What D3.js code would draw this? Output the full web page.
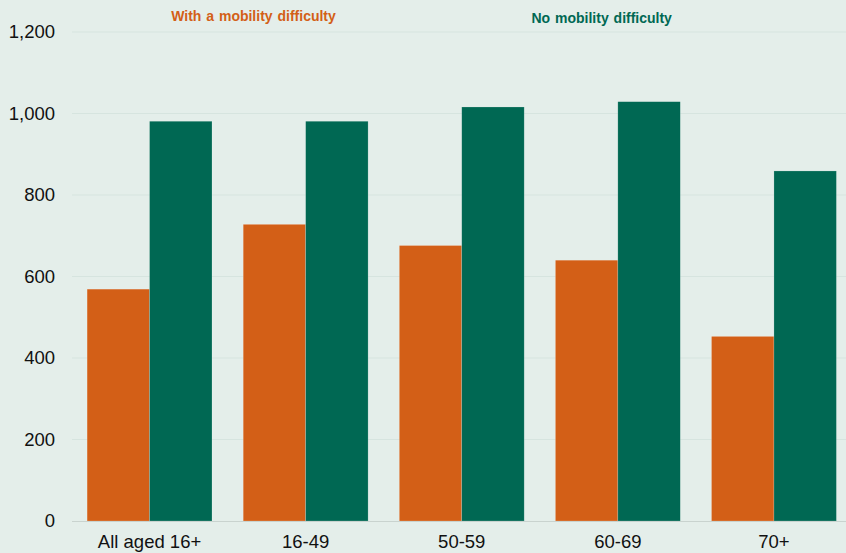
<!DOCTYPE html>
<html><head><meta charset="utf-8">
<script src="https://cdn.jsdelivr.net/npm/d3@7"></script>
<style>
html,body{margin:0;padding:0;background:#e4eeea;}
svg{display:block;font-family:"Liberation Sans",Arial,sans-serif;}
</style></head>
<body><svg id="c" width="846" height="553"></svg>
<script>
const categories = ["All aged 16+", "16-49", "50-59", "60-69", "70+"];
const seriesNames = ["With a mobility difficulty", "No mobility difficulty"];
const withDifficulty = [569, 728, 676, 640, 453];
const noDifficulty = [981, 981, 1016, 1029, 859];
const yTicks = [0, 200, 400, 600, 800, 1000, 1200];
const colors = ["#d35f17", "#006853"];

const svg = d3.select("#c");
const W = 846, H = 553;
svg.append("rect").attr("width", W).attr("height", H).attr("fill", "#e4eeea");

const x = d3.scaleBand().domain(categories).range([71.5, 852]).paddingInner(0.2).paddingOuter(0.1);
const x1 = d3.scaleBand().domain(seriesNames).range([0, x.bandwidth()]);
const y = d3.scaleLinear().domain([0, 1200]).range([521, 32]);

// gridlines
svg.append("g").selectAll("line").data(yTicks.filter(d => d > 0)).join("line")
  .attr("x1", 72).attr("x2", W).attr("y1", d => y(d)).attr("y2", d => y(d))
  .attr("stroke", "#d6e4df").attr("stroke-width", 1);

// y axis
const yAxis = d3.axisLeft(y).tickValues(yTicks).tickFormat(d3.format(",")).tickSize(0).tickPadding(0);
const ga = svg.append("g").attr("transform", "translate(55,0)").call(yAxis);
ga.select(".domain").remove();
ga.selectAll("text").attr("font-size", "18.5px").attr("fill", "#111").attr("font-family", "Liberation Sans, Arial, sans-serif");

const data = categories.map((c, i) => ({cat: c, vals: [withDifficulty[i], noDifficulty[i]]}));
const groups = svg.append("g").selectAll("g").data(data).join("g")
  .attr("transform", d => `translate(${x(d.cat)},0)`);
groups.selectAll("rect").data(d => d.vals.map((v, j) => ({name: seriesNames[j], v, j}))).join("rect")
  .attr("x", d => x1(d.name)).attr("width", x1.bandwidth())
  .attr("y", d => y(d.v)).attr("height", d => y(0) - y(d.v))
  .attr("fill", d => colors[d.j])
  .attr("stroke", "rgba(255,255,255,0.3)").attr("stroke-width", 0.6);

// baseline
svg.append("line").attr("x1", 72).attr("x2", W).attr("y1", y(0) + 0.5).attr("y2", y(0) + 0.5)
  .attr("stroke", "#c9d3cf").attr("stroke-width", 1);

// x axis
const xAxis = d3.axisBottom(x).tickSize(0).tickPadding(0);
const gx = svg.append("g").attr("transform", "translate(0,535)").call(xAxis);
gx.select(".domain").remove();
gx.selectAll("text").attr("font-size", "18.5px").attr("fill", "#111").attr("font-family", "Liberation Sans, Arial, sans-serif");

// legend labels
svg.append("text").attr("x", 253.5).attr("y", 21).attr("text-anchor", "middle")
  .attr("font-size", "14px").attr("font-weight", "bold").attr("fill", colors[0]).attr("word-spacing", "1px")
  .text(seriesNames[0]);
svg.append("text").attr("x", 601.7).attr("y", 23).attr("text-anchor", "middle")
  .attr("font-size", "14px").attr("font-weight", "bold").attr("fill", colors[1]).attr("word-spacing", "1px")
  .text(seriesNames[1]);
</script></body></html>
